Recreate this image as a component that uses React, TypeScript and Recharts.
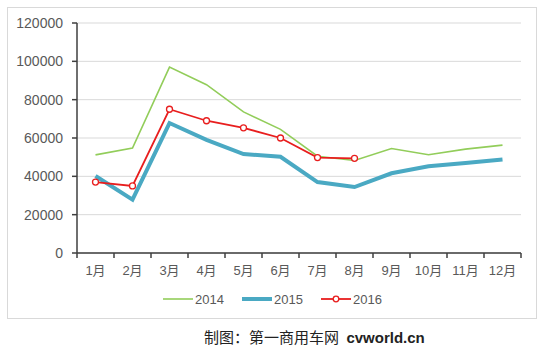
import { LineChart, Line, XAxis, YAxis, CartesianGrid, Legend } from "recharts"

const months = ["1月", "2月", "3月", "4月", "5月", "6月", "7月", "8月", "9月", "10月", "11月", "12月"]
const sales2014 = [51200, 54800, 97000, 87800, 73600, 64500, 50500, 48300, 54500, 51300, 54200, 56300]
const sales2015 = [40200, 27800, 67800, 59000, 51600, 50200, 37000, 34400, 41600, 45300, 47000, 48800]
const sales2016 = [37000, 35000, 75000, 69000, 65300, 60000, 49800, 49400, null, null, null, null]
const yTicks = [0, 20000, 40000, 60000, 80000, 100000, 120000]

const seriesInfo = [
  { key: "2014", color: "#92CD5A", width: 1.6, dot: false },
  { key: "2015", color: "#4AA9C3", width: 4, dot: false },
  { key: "2016", color: "#E81E1E", width: 1.8, dot: true },
]

const data = months.map((m, i) => ({
  month: m,
  "2014": sales2014[i],
  "2015": sales2015[i],
  "2016": sales2016[i],
}))

const FONT = "'Liberation Sans', Arial, 'Noto Sans CJK SC', sans-serif"
const PLOT_LEFT = 77
const PLOT_RIGHT = 521
const BAND = (PLOT_RIGHT - PLOT_LEFT) / months.length
const AXIS_COLOR = "#3f3f3f"

function MonthTick(props: any) {
  const { x, y, payload, index } = props
  return (
    <g>
      <line x1={x - BAND / 2} x2={x - BAND / 2} y1={y} y2={y + 5} stroke={AXIS_COLOR} strokeWidth={1.5} />
      {index === months.length - 1 && (
        <line x1={x + BAND / 2} x2={x + BAND / 2} y1={y} y2={y + 5} stroke={AXIS_COLOR} strokeWidth={1.5} />
      )}
      <text x={x} y={y + 22} textAnchor="middle" fill="#595959" fontSize={13} fontFamily={FONT}>
        {payload.value}
      </text>
    </g>
  )
}

function LegendContent() {
  return (
    <svg width={240} height={20}>
      {seriesInfo.map((s, i) => {
        const x0 = i * 79
        return (
          <g key={s.key}>
            <line x1={x0} x2={x0 + 30} y1={10} y2={10} stroke={s.color} strokeWidth={s.width} />
            {s.dot && <circle cx={x0 + 15} cy={10} r={2.8} fill="#fff" stroke={s.color} strokeWidth={1.3} />}
            <text x={x0 + 32} y={15} fill="#595959" fontSize={13} fontFamily={FONT}>
              {s.key}
            </text>
          </g>
        )
      })}
    </svg>
  )
}

export default function App() {
  return (
    <div style={{ position: "absolute", left: 0, top: 0, width: 557, height: 353, background: "#fff" }}>
      <div
        style={{
          position: "absolute",
          left: 7,
          top: 7,
          width: 530,
          height: 312,
          border: "1px solid #d9d9d9",
          boxSizing: "border-box",
        }}
      />
      <div style={{ position: "absolute", left: 0, top: 0 }}>
        <LineChart width={557} height={353} data={data} margin={{ top: 23, right: 36, left: 7, bottom: 70 }}>
          <CartesianGrid vertical={false} stroke="#d9d9d9" strokeWidth={1} />
          <XAxis
            dataKey="month"
            height={30}
            padding={{ left: BAND / 2, right: BAND / 2 }}
            axisLine={{ stroke: AXIS_COLOR, strokeWidth: 1.5 }}
            tickLine={false}
            tickSize={0}
            tickMargin={0}
            interval={0}
            tick={<MonthTick />}
          />
          <YAxis
            width={70}
            domain={[0, 120000]}
            ticks={yTicks}
            interval={0}
            axisLine={{ stroke: AXIS_COLOR, strokeWidth: 1.5 }}
            tickLine={{ stroke: AXIS_COLOR, strokeWidth: 1.5 }}
            tickSize={5}
            tickMargin={9}
            tick={{ fill: "#595959", fontSize: 14, fontFamily: FONT }}
          />
          <Legend
            verticalAlign="middle"
            align="center"
            content={<LegendContent />}
            wrapperStyle={{ top: 289, left: 163, width: 240, height: 20 }}
          />
          {seriesInfo.map((s) => (
            <Line
              key={s.key}
              type="linear"
              dataKey={s.key}
              stroke={s.color}
              strokeWidth={s.width}
              dot={s.dot ? { r: 3, fill: "#fff", stroke: s.color, strokeWidth: 1.3 } : false}
              activeDot={false}
              connectNulls={false}
              isAnimationActive={false}
            />
          ))}
        </LineChart>
      </div>
      <div
        style={{
          position: "absolute",
          left: 204,
          top: 326,
          fontSize: 15,
          color: "#222",
          whiteSpace: "nowrap",
          fontFamily: "'Noto Sans CJK SC', sans-serif",
        }}
      >
        制图：第一商用车网{" "}
        <span style={{ fontFamily: "'Liberation Sans', Arial, sans-serif", fontWeight: 600, marginLeft: 4 }}>cvworld.cn</span>
      </div>
    </div>
  )
}
